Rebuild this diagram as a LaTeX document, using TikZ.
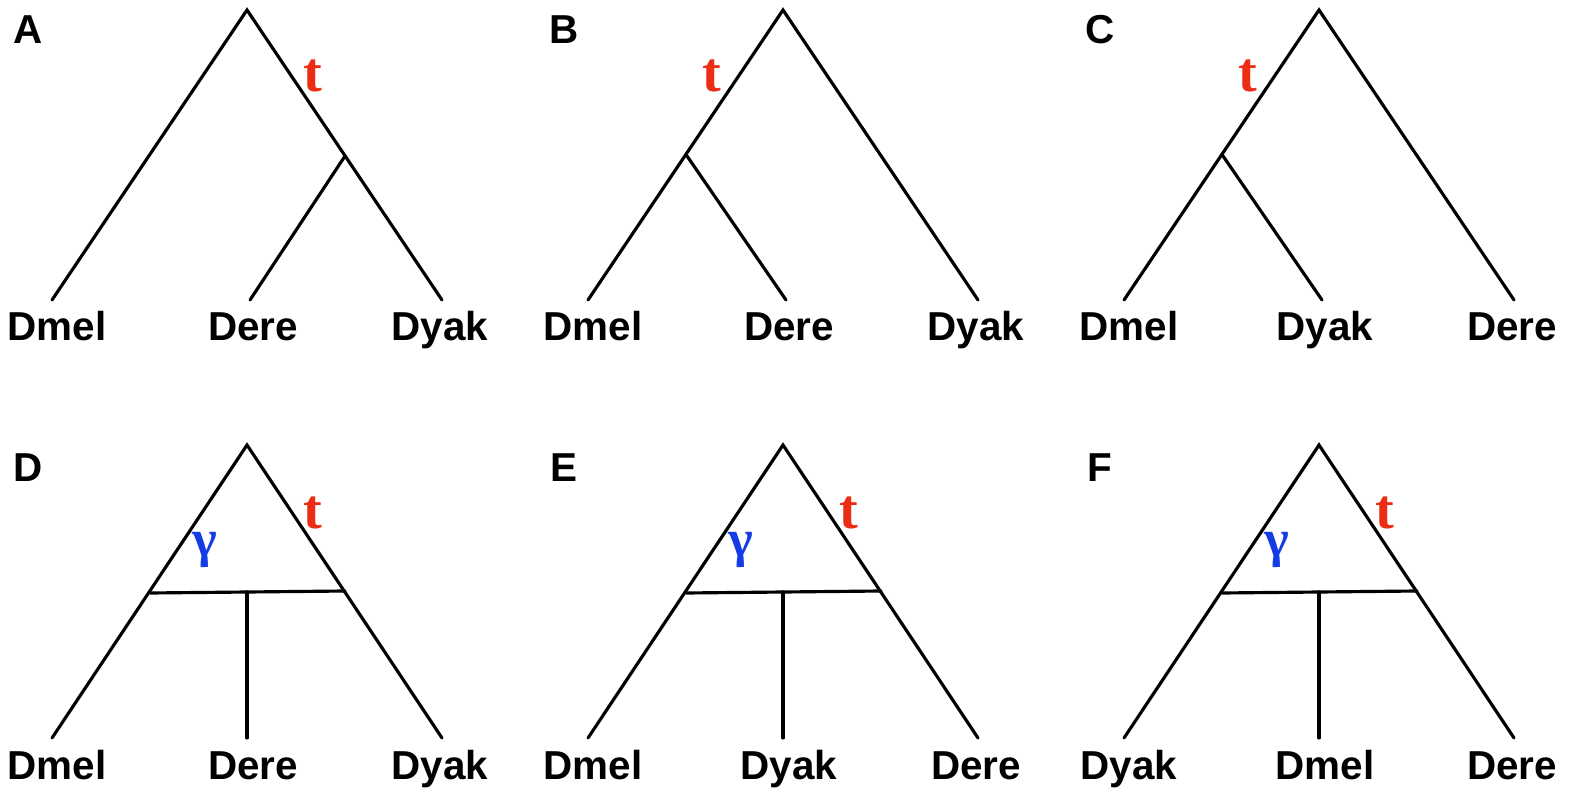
\documentclass[tikz,border=0pt]{standalone}
\usepackage{fontspec}
\setmainfont{Liberation Sans}
\newfontfamily\serifbold{Liberation Serif}
\usetikzlibrary{positioning}
\definecolor{tred}{RGB}{235,45,20}
\definecolor{gblue}{RGB}{20,60,230}
\tikzset{
  branch/.style={line width=1.8pt, line cap=round},
  taxon/.style={font=\fontsize{23}{26}\selectfont\bfseries, anchor=base},
  panel/.style={font=\fontsize{23}{26}\selectfont\bfseries},
  tlab/.style={text=tred, font=\serifbold\fontsize{32}{34}\selectfont\bfseries},
  glab/.style={text=gblue, font=\serifbold\fontsize{30}{32}\selectfont\bfseries}
}
\begin{document}
\begin{tikzpicture}[x=0.02cm, y=-0.02cm]
  \useasboundingbox (0,0) rectangle (1579,800);

  % Top row: bifurcating trees
  \foreach \p/\dx/\kx/\tx/\la/\lb/\lc in {A/0/345/313/Dmel/Dere/Dyak, B/536/687/712/Dmel/Dere/Dyak, C/1072/1223/1248/Dmel/Dyak/Dere} {
    \begin{scope}[xshift=\dx*0.02cm]
      \node[panel] (lab\p) at (28,30) {\p};
      \coordinate (root\p) at (247,10);
      \coordinate (in\p) at (\kx-\dx,156);
      \coordinate (l1\p) at (52,300);
      \coordinate (l2\p) at (250,300);
      \coordinate (l3\p) at (442,300);
      \draw[branch] (l1\p) -- (root\p) -- (l3\p);
      \draw[branch] (in\p) -- (l2\p);
      \node[tlab] (t\p) at (\tx-\dx,76) {t};
      \node[taxon] (n1\p) at (57,341) {\la};
      \node[taxon] (n2\p) at (253,341) {\lb};
      \node[taxon] (n3\p) at (440,341) {\lc};
    \end{scope}
  }

  % Bottom row: network trees
  \foreach \p/\dx/\la/\lb/\lc in {D/0/Dmel/Dere/Dyak, E/536/Dmel/Dyak/Dere, F/1072/Dyak/Dmel/Dere} {
    \begin{scope}[xshift=\dx*0.02cm]
      \node[panel] (lab\p) at (28,468) {\p};
      \coordinate (root\p) at (247,445);
      \coordinate (hl\p) at (150,593);
      \coordinate (hr\p) at (345,591);
      \coordinate (hm\p) at (247,592);
      \coordinate (l1\p) at (52,738);
      \coordinate (l2\p) at (247,738);
      \coordinate (l3\p) at (442,738);
      \draw[branch] (l1\p) -- (root\p) -- (l3\p);
      \draw[branch] (hl\p) -- (hr\p);
      \draw[branch] (hm\p) -- (l2\p);
      \node[tlab] (t\p) at (313,513) {t};
      \node[glab] (g\p) at (205,550) {γ};
      \node[taxon] (n1\p) at (57,779) {\la};
      \node[taxon] (n2\p) at (253,779) {\lb};
      \node[taxon] (n3\p) at (440,779) {\lc};
    \end{scope}
  }
\end{tikzpicture}
\end{document}
